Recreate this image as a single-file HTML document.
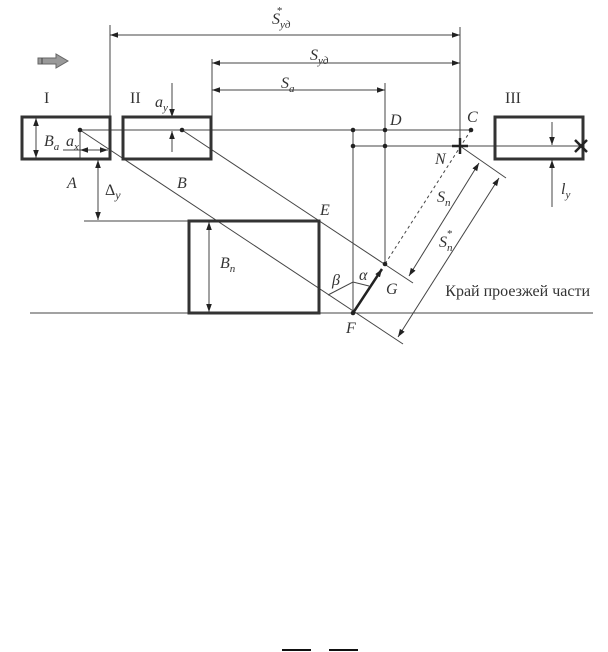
<!DOCTYPE html>
<html><head><meta charset="utf-8"><style>
html,body{margin:0;padding:0;background:#fff;}
svg{display:block;font-family:"Liberation Serif","DejaVu Serif",serif;}
text{font-family:"Liberation Serif","DejaVu Serif",serif;fill:#333;font-style:italic;font-size:16px;}
.r{font-style:normal;}
</style></head><body>
<svg width="608" height="652" viewBox="0 0 608 652" xmlns="http://www.w3.org/2000/svg">
<defs>
<marker id="a" viewBox="0 0 10 10" refX="10" refY="5" markerWidth="8" markerHeight="8" orient="auto-start-reverse" markerUnits="userSpaceOnUse"><path d="M0,1.5 L10,5 L0,8.5z" fill="#222"/></marker>
</defs>
<g stroke="#444" stroke-width="1" fill="none">
<line x1="110" y1="25" x2="110" y2="117"/>
<line x1="460" y1="27" x2="460" y2="150"/>
<line x1="212" y1="59" x2="212" y2="117"/>
<line x1="385" y1="83" x2="385" y2="264"/>
<line x1="353" y1="130" x2="353" y2="313"/>
<line x1="110" y1="35" x2="460" y2="35" marker-start="url(#a)" marker-end="url(#a)"/>
<line x1="212" y1="63" x2="460" y2="63" marker-start="url(#a)" marker-end="url(#a)"/>
<line x1="212" y1="90" x2="385" y2="90" marker-start="url(#a)" marker-end="url(#a)"/>
<line x1="80" y1="130" x2="471" y2="130"/>
<line x1="353" y1="146" x2="583" y2="146"/>
<line x1="30" y1="313" x2="593" y2="313"/>
<line x1="84" y1="221" x2="189" y2="221"/>
<line x1="80" y1="130" x2="403" y2="344"/>
<line x1="182" y1="130" x2="413" y2="283"/>
<line x1="460" y1="146" x2="506" y2="178"/>
<line x1="471" y1="130" x2="385" y2="264" stroke-dasharray="3,3"/>
<line x1="409" y1="276" x2="479" y2="163" marker-start="url(#a)" marker-end="url(#a)"/>
<line x1="398" y1="337" x2="499" y2="178" marker-start="url(#a)" marker-end="url(#a)"/>
<polyline points="328,295 353,282 369,286"/>
<line x1="36" y1="118" x2="36" y2="158" marker-start="url(#a)" marker-end="url(#a)"/>
<line x1="209" y1="222" x2="209" y2="312" marker-start="url(#a)" marker-end="url(#a)"/>
<line x1="98" y1="160" x2="98" y2="220" marker-start="url(#a)" marker-end="url(#a)"/>
<line x1="63" y1="150" x2="80" y2="150"/>
<line x1="80" y1="130" x2="80" y2="160"/>
<line x1="80" y1="150" x2="108" y2="150" marker-start="url(#a)" marker-end="url(#a)"/>
<line x1="172" y1="83" x2="172" y2="117" marker-end="url(#a)"/>
<line x1="172" y1="152" x2="172" y2="131" marker-end="url(#a)"/>
<line x1="552" y1="122" x2="552" y2="145" marker-end="url(#a)"/>
<line x1="552" y1="207" x2="552" y2="160" marker-end="url(#a)"/>
</g>
<g stroke="#333" stroke-width="3" fill="none">
<rect x="22" y="117" width="88" height="42"/>
<rect x="123" y="117" width="88" height="42"/>
<rect x="495" y="117" width="88" height="42"/>
<rect x="189" y="221" width="130" height="92"/>
</g>
<line x1="353" y1="313" x2="382" y2="269" stroke="#222" stroke-width="2.5" marker-end="url(#a)"/>
<g stroke="#222" stroke-width="2.5">
<line x1="452" y1="146" x2="468" y2="146"/><line x1="460" y1="138" x2="460" y2="154"/>
<line x1="575" y1="140" x2="587" y2="152"/><line x1="587" y1="140" x2="575" y2="152"/>
</g>
<g fill="#222">
<circle cx="80" cy="130" r="2.3"/><circle cx="182" cy="130" r="2.3"/>
<circle cx="353" cy="130" r="2.3"/><circle cx="385" cy="130" r="2.3"/>
<circle cx="353" cy="146" r="2.3"/><circle cx="385" cy="146" r="2.3"/>
<circle cx="471" cy="130" r="2.3"/><circle cx="385" cy="264" r="2.3"/>
<circle cx="353" cy="313" r="2.3"/>
</g>
<path d="M38,58 L56,58 L56,54 L68,61 L56,68 L56,64 L38,64z" fill="#999" stroke="#666" stroke-width="1"/>
<line x1="42" y1="58" x2="42" y2="64" stroke="#444"/>
<text class="r" x="44" y="103">I</text>
<text class="r" x="130" y="103">II</text>
<text class="r" x="505" y="103">III</text>
<text x="272" y="24">S<tspan font-size="11" dy="4">уд</tspan><tspan font-size="11" dx="-14" dy="-14">*</tspan></text>
<text x="310" y="60">S<tspan font-size="11" dy="4">уд</tspan></text>
<text x="281" y="88">S<tspan font-size="11" dy="4">a</tspan></text>
<text x="155" y="107">a<tspan font-size="11" dy="4">y</tspan></text>
<text x="44" y="146">B<tspan font-size="11" dy="4">a</tspan></text>
<text x="66" y="146">a<tspan font-size="11" dy="4">x</tspan></text>
<text x="67" y="188">A</text>
<text x="177" y="188">B</text>
<text x="105" y="195" class="r">Δ<tspan font-size="12" dy="4" font-style="italic">y</tspan></text>
<text x="390" y="125">D</text>
<text x="467" y="122">C</text>
<text x="435" y="164">N</text>
<text x="320" y="215">E</text>
<text x="220" y="268">B<tspan font-size="11" dy="4">n</tspan></text>
<text x="332" y="285">β</text>
<text x="359" y="280">α</text>
<text x="386" y="294">G</text>
<text x="346" y="333">F</text>
<text x="437" y="202">S<tspan font-size="11" dy="4">n</tspan></text>
<text x="439" y="247">S<tspan font-size="11" dy="4">n</tspan><tspan font-size="11" dx="-6" dy="-14">*</tspan></text>
<text x="561" y="194">l<tspan font-size="11" dy="4">y</tspan></text>
<text class="r" x="590" y="296" font-size="14" text-anchor="end">Край проезжей части</text>
<rect x="282" y="649" width="29" height="2" fill="#111"/>
<rect x="329" y="649" width="29" height="2" fill="#111"/>
</svg>
</body></html>
